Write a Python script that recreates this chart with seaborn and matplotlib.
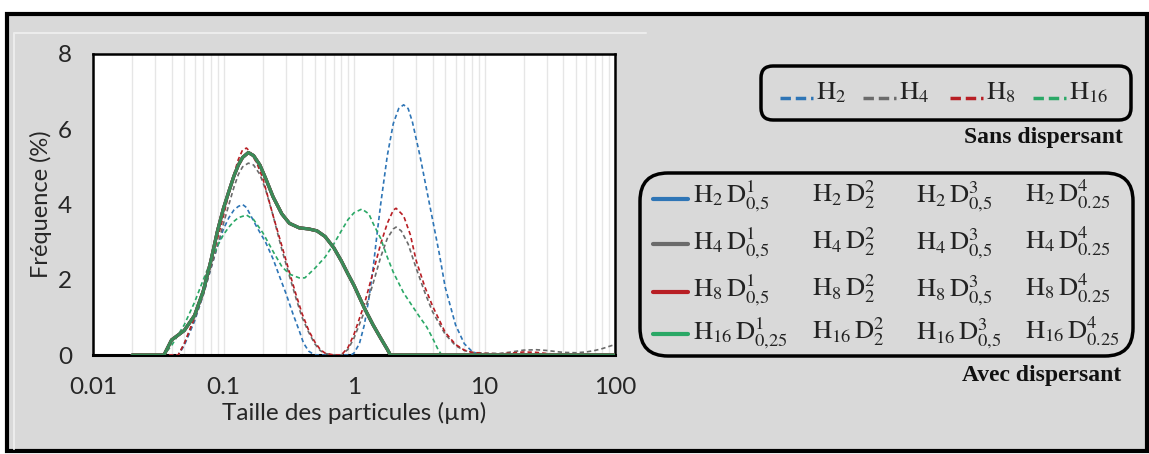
import numpy as np
import matplotlib
matplotlib.use("Agg")
import matplotlib.pyplot as plt
from matplotlib.patches import Rectangle, FancyBboxPatch
from matplotlib.ticker import FixedLocator, LogLocator, NullFormatter
import seaborn as sns

# --- données (taille en µm, fréquence en %) ---
avec_x = [0.02, 0.035, 0.04, 0.05, 0.06, 0.07, 0.08, 0.09, 0.1, 0.11, 0.12, 0.13, 0.14,
          0.155, 0.17, 0.19, 0.21, 0.24, 0.28, 0.32, 0.38, 0.45, 0.52, 0.6, 0.7, 0.8,
          0.9, 1.0, 1.2, 1.4, 1.6, 1.8, 1.9, 100]
avec_y = [0, 0, 0.4, 0.65, 1.05, 1.7, 2.5, 3.3, 3.9, 4.35, 4.75, 5.05, 5.25,
          5.38, 5.3, 5.05, 4.7, 4.2, 3.75, 3.5, 3.38, 3.35, 3.3, 3.15, 2.85, 2.5,
          2.15, 1.85, 1.25, 0.8, 0.45, 0.15, 0, 0]

h2_x = [0.02, 0.045, 0.05, 0.06, 0.07, 0.08, 0.09, 0.1, 0.11, 0.12,
        0.13, 0.14, 0.15, 0.18, 0.21, 0.24, 0.27, 0.3, 0.34, 0.38,
        0.41, 0.45, 0.5, 0.95, 1.0, 1.1, 1.2, 1.3, 1.4, 1.5,
        1.6, 1.8, 2.0, 2.2, 2.4, 2.6, 2.8, 3.2, 3.6, 4.0,
        4.5, 5.0, 6.0, 7.0, 8.0, 9.0, 10, 100]
h2_y = [0, 0, 0.25, 0.9, 1.6, 2.3, 2.9, 3.35, 3.65, 3.85,
        3.95, 4.0, 3.92, 3.4, 3.0, 2.55, 2.07, 1.65, 1.1, 0.65,
        0.32, 0.1, 0, 0, 0.05, 0.3, 0.8, 1.5, 2.3, 3.2,
        4.0, 5.3, 6.15, 6.55, 6.65, 6.55, 6.2, 5.3, 4.4, 3.6,
        2.7, 1.8, 0.8, 0.3, 0.1, 0.02, 0, 0]

h4_x = [0.02, 0.045, 0.05, 0.06, 0.07, 0.08, 0.09, 0.1, 0.11, 0.12,
        0.13, 0.14, 0.155, 0.17, 0.19, 0.21, 0.24, 0.28, 0.32, 0.36,
        0.4, 0.45, 0.5, 0.55, 0.6, 0.7, 0.8, 0.9, 1.0, 1.2,
        1.4, 1.6, 1.8, 2.0, 2.1, 2.3, 2.6, 3.0, 3.5, 4.0,
        5.0, 6.0, 7.0, 8.0, 10, 13, 16, 20, 25, 30,
        40, 50, 60, 70, 80, 100]
h4_y = [0, 0, 0.3, 0.95, 1.6, 2.3, 2.9, 3.5, 4.0, 4.45,
        4.8, 5.0, 5.1, 5.05, 4.8, 4.4, 3.7, 2.8, 2.1, 1.5,
        1.0, 0.6, 0.3, 0.12, 0.04, 0, 0, 0.15, 0.45, 1.15,
        1.9, 2.6, 3.1, 3.35, 3.4, 3.3, 2.95, 2.3, 1.65, 1.15,
        0.55, 0.25, 0.12, 0.07, 0.05, 0.04, 0.08, 0.13, 0.14, 0.12,
        0.07, 0.06, 0.08, 0.12, 0.17, 0.28]

h8_x = [0.02, 0.045, 0.05, 0.06, 0.07, 0.08, 0.09, 0.1, 0.11, 0.12,
        0.13, 0.14, 0.15, 0.16, 0.18, 0.2, 0.24, 0.28, 0.32, 0.36,
        0.4, 0.45, 0.5, 0.55, 0.6, 0.7, 0.8, 0.9, 1.0, 1.2,
        1.4, 1.6, 1.8, 2.0, 2.1, 2.4, 2.7, 3.0, 3.5, 4.0,
        5.0, 6.0, 7.0, 8.0, 10, 13, 16, 20, 25, 30,
        40, 50, 100]
h8_y = [0, 0, 0.3, 1.0, 1.7, 2.4, 3.1, 3.7, 4.3, 4.8,
        5.2, 5.45, 5.5, 5.4, 5.1, 4.7, 3.7, 2.9, 2.2, 1.6,
        1.1, 0.65, 0.35, 0.15, 0.05, 0, 0, 0.2, 0.55, 1.35,
        2.2, 2.95, 3.5, 3.85, 3.9, 3.7, 3.2, 2.5, 1.8, 1.3,
        0.6, 0.28, 0.13, 0.07, 0.04, 0.03, 0.05, 0.08, 0.07, 0.04,
        0.01, 0, 0]

h16_x = [0.02, 0.035, 0.04, 0.05, 0.06, 0.07, 0.08, 0.09, 0.1, 0.11,
         0.12, 0.13, 0.15, 0.17, 0.2, 0.24, 0.28, 0.32, 0.38, 0.42,
         0.5, 0.6, 0.7, 0.8, 0.9, 1.0, 1.15, 1.3, 1.4, 1.6,
         1.8, 2.0, 2.4, 2.8, 3.2, 3.6, 4.0, 4.4, 4.7, 100]
h16_y = [0, 0, 0.25, 0.8, 1.4, 2.0, 2.5, 2.9, 3.2, 3.4,
         3.55, 3.65, 3.72, 3.6, 3.25, 2.75, 2.35, 2.15, 2.05, 2.05,
         2.3, 2.6, 2.95, 3.3, 3.6, 3.78, 3.88, 3.75, 3.5, 3.1,
         2.6, 2.2, 1.65, 1.3, 1.0, 0.75, 0.45, 0.15, 0, 0]

x_ticks = [0.01, 0.1, 1, 10, 100]
x_tick_labels = ["0.01", "0.1", "1", "10", "100"]
y_ticks = [0, 2, 4, 6, 8]

# couleurs par série H
h_names = ["H_{2}", "H_{4}", "H_{8}", "H_{16}"]
h_colors = ["#2e75b6", "#6b6b6b", "#b81e24", "#2aa866"]

# étiquettes de la légende "Avec dispersant" (ligne = H, colonne = D)
d_labels = [
    ["D^{1}_{0{,}5}", "D^{2}_{2}", "D^{3}_{0{,}5}", "D^{4}_{0.25}"],
    ["D^{1}_{0{,}5}", "D^{2}_{2}", "D^{3}_{0{,}5}", "D^{4}_{0.25}"],
    ["D^{1}_{0{,}5}", "D^{2}_{2}", "D^{3}_{0{,}5}", "D^{4}_{0.25}"],
    ["D^{1}_{0{,}25}", "D^{2}_{2}", "D^{3}_{0{,}5}", "D^{4}_{0.25}"],
]

sans_x = [h2_x, h4_x, h8_x, h16_x]
sans_y = [h2_y, h4_y, h8_y, h16_y]

# --- style ---
sns.set_style("white")
plt.rcParams["font.family"] = ["Lato", "DejaVu Sans"]
plt.rcParams["mathtext.fontset"] = "stix"

W, H = 1149, 454
fig = plt.figure(figsize=(W / 100, H / 100), dpi=100)
fig.patch.set_facecolor("white")

# fond + cadre + légendes dans un axe en pixels
bg = fig.add_axes([0, 0, 1, 1], zorder=0)
bg.set_xlim(0, W)
bg.set_ylim(H, 0)
bg.axis("off")
bg.add_patch(Rectangle((7, 14), W - 9, H - 17, facecolor="#d9d9d9",
                       edgecolor="black", lw=3))
bg.plot([14, 14, 646], [449, 33, 33], color="#ececec", lw=1.5)

# 🔹 zone de tracé
L, T, R, B = 93, 54, 615, 355
ax = fig.add_axes([L / W, 1 - B / H, (R - L) / W, (B - T) / H], zorder=1)
ax.set_facecolor("white")

for xs, ys, c in zip(sans_x, sans_y, h_colors):
    sns.lineplot(x=xs, y=ys, ax=ax, color=c, lw=1.2, linestyle=(0, (2.6, 1.8)),
                 estimator=None, sort=False, zorder=3)

for c in h_colors:
    sns.lineplot(x=avec_x, y=avec_y, ax=ax, color=c if c != "#2aa866" else "#3a8a58",
                 lw=2.3, estimator=None, sort=False, zorder=4)

ax.set_xscale("log")
ax.set_xlim(0.01, 100)
ax.set_ylim(0, 8)
ax.xaxis.set_major_locator(FixedLocator(x_ticks))
ax.set_xticklabels(x_tick_labels)
ax.xaxis.set_minor_locator(LogLocator(base=10, subs=np.arange(2, 10)))
ax.xaxis.set_minor_formatter(NullFormatter())
ax.set_yticks(y_ticks)
ax.grid(True, which="both", axis="x", color="#e6e6e6", lw=1)
ax.grid(False, axis="y")
ax.tick_params(axis="both", which="both", length=0, labelsize=17.5)
ax.tick_params(axis="y", pad=15)
ax.tick_params(axis="x", pad=16)
for s in ax.spines.values():
    s.set_color("black")
    s.set_linewidth(1.8)
ax.spines["bottom"].set_linewidth(2.2)
ax.set_xlabel("Taille des particules (µm)", fontsize=17.5, labelpad=3)
ax.set_ylabel("Fréquence (%)", fontsize=17, labelpad=4)

# --- légende "Sans dispersant" ---
bg.add_patch(FancyBboxPatch((761, 66), 370, 54,
                            boxstyle="round,pad=0,rounding_size=12",
                            facecolor="none", edgecolor="black", lw=2.5))
leg1_line_x = [780, 863, 950, 1033]
for x0, name, c in zip(leg1_line_x, h_names, h_colors):
    bg.plot([x0, x0 + 33], [98, 98], color=c, lw=2.5, linestyle=(0, (3, 1.4)))
    bg.text(x0 + 36, 99, "$\\mathrm{" + name + "}$", fontsize=19,
            ha="left", va="baseline", color="#222222")
bg.text(1123, 138, "Sans dispersant", fontsize=17, fontweight="bold",
        family="Liberation Serif", ha="right", va="center", color="#111111")

# --- légende "Avec dispersant" ---
bg.add_patch(FancyBboxPatch((640, 173), 493, 183,
                            boxstyle="round,pad=0,rounding_size=28",
                            facecolor="none", edgecolor="black", lw=2.5))
row_y = [202, 249, 296, 339]
line_y = [199, 244, 292, 334]
col_x = [693, 812, 916, 1025]
for r, (name, c) in enumerate(zip(h_names, h_colors)):
    bg.plot([653, 688], [line_y[r], line_y[r]], color=c, lw=3)
    for k in range(4):
        bg.text(col_x[k], row_y[r], "$\\mathrm{" + name + "\\," + d_labels[r][k] + "}$",
                fontsize=19, ha="left", va="baseline", color="#222222")
bg.text(1121, 375, "Avec dispersant", fontsize=17, fontweight="bold",
        family="Liberation Serif", ha="right", va="center", color="#111111")

fig.savefig("out.png", dpi=100)
